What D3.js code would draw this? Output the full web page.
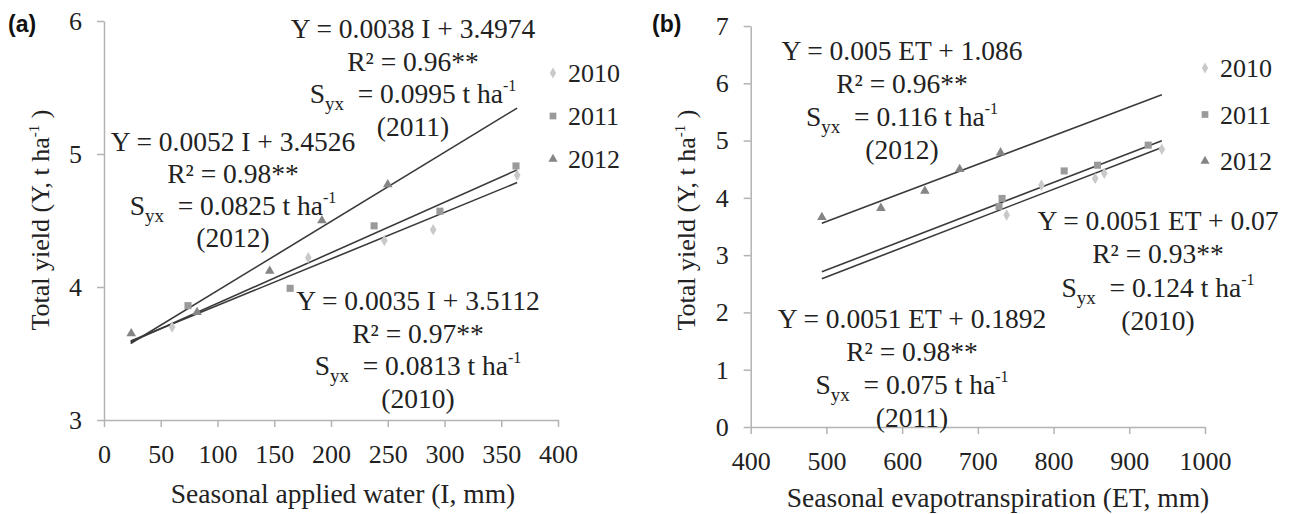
<!DOCTYPE html>
<html><head><meta charset="utf-8">
<script src="https://cdn.jsdelivr.net/npm/d3@7"></script>
<style>
body{margin:0;background:#fff;}
svg{display:block;}
</style></head>
<body>
<svg id="c" width="1296" height="514"></svg>
<script>
// ---------------- DATA ----------------
const years = ["2010", "2011", "2012"];

// Panel (a): seasonal applied water (I, mm) vs total yield
const aTicksX = [0, 50, 100, 150, 200, 250, 300, 350, 400];
const aTicksY = [3, 4, 5, 6];
const a2010I = [60, 180, 247, 290, 364];
const a2010Y = [3.70, 4.22, 4.35, 4.43, 4.84];
const a2011I = [74, 164, 238, 296, 363];
const a2011Y = [3.86, 3.99, 4.46, 4.57, 4.91];
const a2012I = [24, 82, 146, 192, 250];
const a2012Y = [3.65, 3.81, 4.12, 4.50, 4.77];
const aSlope = [0.0035, 0.0038, 0.0052];
const aIntercept = [3.5112, 3.4974, 3.4526];
const aR2 = [0.97, 0.96, 0.98];
const aSyx = [0.0813, 0.0995, 0.0825];
const aFitRange = [23.5, 364];

// Panel (b): seasonal evapotranspiration (ET, mm) vs total yield
const bTicksX = [400, 500, 600, 700, 800, 900, 1000];
const bTicksY = [0, 1, 2, 3, 4, 5, 6, 7];
const b2010ET = [738, 784, 855, 867, 943];
const b2010Y = [3.70, 4.22, 4.34, 4.43, 4.85];
const b2011ET = [728, 732, 814, 858, 925];
const b2011Y = [3.85, 3.99, 4.47, 4.57, 4.92];
const b2012ET = [494, 572, 630, 676, 730];
const b2012Y = [3.66, 3.82, 4.12, 4.50, 4.79];
const bSlope = [0.0051, 0.0051, 0.005];
const bIntercept = [0.07, 0.1892, 1.086];
const bR2 = [0.93, 0.98, 0.96];
const bSyx = [0.124, 0.075, 0.116];
const bFitRange = [494, 943];

// ---------------- STYLE / LAYOUT ----------------
const serif = "'Liberation Serif','Times New Roman',serif";
const markerFill = ["#c9c9c9", "#9a9a9a", "#858585"];
const markerType = [d3.symbolDiamond, d3.symbolSquare, d3.symbolTriangle];
const markerSize = [38, 50, 40];
const lineColor = "#3a3a3a";
const axisColor = "#b3b3b3";
const textColor = "#222";

const svg = d3.select("#c");

function T(sel) { return sel.style("font-family", serif).style("fill", textColor); }

function drawPanel(cfg) {
  const x = d3.scaleLinear().domain(cfg.xDomain).range(cfg.xRange);
  const y = d3.scaleLinear().domain(cfg.yDomain).range(cfg.yRange);
  const g = svg.append("g");

  // axes
  const xa = g.append("g").attr("transform", `translate(0,${cfg.yRange[0]})`)
    .call(d3.axisBottom(x).tickValues(cfg.ticksX).tickFormat(d => String(d))
      .tickSize(7).tickSizeOuter(0).tickPadding(18));
  const ya = g.append("g").attr("transform", `translate(${cfg.xRange[0]},0)`)
    .call(d3.axisLeft(y).tickValues(cfg.ticksY).tickFormat(d => String(d))
      .tickSize(7).tickSizeOuter(0).tickPadding(15));
  [xa, ya].forEach(a => {
    a.selectAll("path,line").attr("stroke", axisColor).attr("stroke-width", 1.5);
    T(a.selectAll("text")).style("font-size", "26px");
  });

  // fitted lines
  cfg.slope.forEach((s, i) => {
    g.append("line")
      .attr("x1", x(cfg.fit[0])).attr("y1", y(s * cfg.fit[0] + cfg.intercept[i]))
      .attr("x2", x(cfg.fit[1])).attr("y2", y(s * cfg.fit[1] + cfg.intercept[i]))
      .attr("stroke", lineColor).attr("stroke-width", 1.6);
  });

  // points
  cfg.series.forEach((ser, i) => {
    const sym = d3.symbol().type(markerType[i]).size(markerSize[i]);
    g.selectAll(null).data(ser.x.map((v, k) => [v, ser.y[k]])).enter()
      .append("path").attr("d", sym)
      .attr("transform", d => `translate(${x(d[0])},${y(d[1])})`)
      .attr("fill", markerFill[i]);
  });

  // legend
  years.forEach((yr, i) => {
    const by = cfg.legend.y + i * cfg.legend.dy;
    g.append("path").attr("d", d3.symbol().type(markerType[i]).size(markerSize[i] * 0.9)())
      .attr("transform", `translate(${cfg.legend.x},${by - 9})`).attr("fill", markerFill[i]);
    T(g.append("text")).attr("x", cfg.legend.x + 15).attr("y", by).style("font-size", "26px").text(yr);
  });

  // annotations
  cfg.ann.forEach((an, i) => {
    const lines = [
      [{t: `Y = ${cfg.slope[i]} ${cfg.var} + ${cfg.intercept[i]}`}],
      [{t: `R\u00b2 = ${cfg.r2[i]}**`}],
      [{t: "S"}, {t: "yx", sub: true}, {t: `\u00a0 = ${cfg.syx[i]} t ha`}, {t: "-1", sup: true}],
      [{t: `(${years[i]})`}]
    ];
    lines.forEach((parts, li) => {
      const tx = T(g.append("text")).attr("x", an.x).attr("y", an.y + li * an.dy)
        .attr("text-anchor", "middle").style("font-size", "27.5px");
      let shift = 0;
      parts.forEach(p => {
        const d = p.sub ? 7 : p.sup ? -12 : 0;
        const ts = tx.append("tspan").text(p.t).attr("dy", d - shift);
        if (p.sub) ts.style("font-size", "19px");
        if (p.sup) ts.style("font-size", "16px");
        shift = d;
      });
    });
  });

  // axis titles
  T(g.append("text")).attr("x", cfg.xTitle.x).attr("y", cfg.xTitle.y).attr("text-anchor", "middle")
    .style("font-size", "27.5px").text(cfg.xTitle.t);
  const yt = T(g.append("text")).attr("transform", `translate(${cfg.yTitle.x},${cfg.yTitle.y}) rotate(-90)`)
    .attr("text-anchor", "middle").style("font-size", "26px");
  yt.append("tspan").text("Total yield (Y, t ha");
  yt.append("tspan").text("-1").style("font-size", "15px").attr("dy", -10);
  yt.append("tspan").text("\u00a0)").attr("dy", 10);

  // panel label
  g.append("text").attr("x", cfg.label.x).attr("y", cfg.label.y)
    .style("font-family", "'Liberation Sans',Arial,sans-serif").style("font-weight", "bold")
    .style("font-size", "23px").style("fill", "#111").text(cfg.label.t);
}

drawPanel({
  xDomain: [0, 400], xRange: [104, 558], yDomain: [3, 6], yRange: [420, 21],
  ticksX: aTicksX, ticksY: aTicksY,
  slope: aSlope, intercept: aIntercept, r2: aR2, syx: aSyx, fit: aFitRange, var: "I",
  series: [{x: a2010I, y: a2010Y}, {x: a2011I, y: a2011Y}, {x: a2012I, y: a2012Y}],
  legend: {x: 553, y: 82, dy: 43},
  ann: [{x: 418, y: 310, dy: 32.7}, {x: 413, y: 38, dy: 32.5}, {x: 233, y: 151, dy: 32}],
  xTitle: {x: 343, y: 503, t: "Seasonal applied water (I, mm)"},
  yTitle: {x: 49, y: 220},
  label: {x: 8, y: 32, t: "(a)"}
});

drawPanel({
  xDomain: [400, 1000], xRange: [750.7, 1205], yDomain: [0, 7], yRange: [427, 26],
  ticksX: bTicksX, ticksY: bTicksY,
  slope: bSlope, intercept: bIntercept, r2: bR2, syx: bSyx, fit: bFitRange, var: "ET",
  series: [{x: b2010ET, y: b2010Y}, {x: b2011ET, y: b2011Y}, {x: b2012ET, y: b2012Y}],
  legend: {x: 1205, y: 77, dy: 46.5},
  ann: [{x: 1158, y: 230, dy: 33.3}, {x: 912, y: 328, dy: 33}, {x: 902, y: 60, dy: 33}],
  xTitle: {x: 998, y: 507, t: "Seasonal evapotranspiration (ET, mm)"},
  yTitle: {x: 695, y: 220},
  label: {x: 652, y: 32, t: "(b)"}
});
</script>
</body></html>
